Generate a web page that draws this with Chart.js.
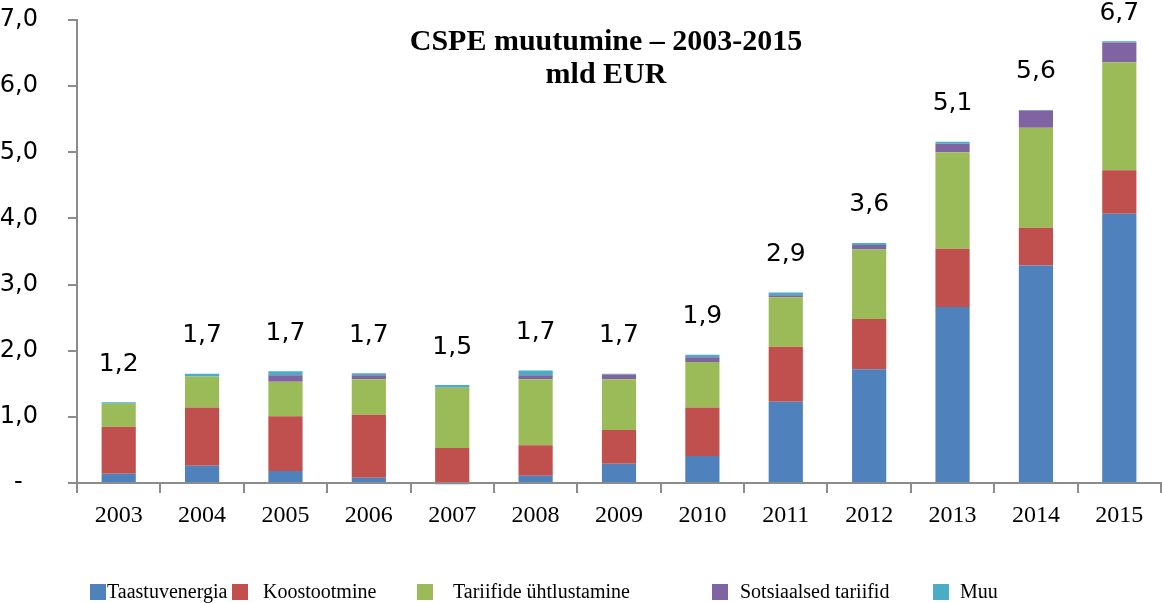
<!DOCTYPE html>
<html>
<head>
<meta charset="utf-8">
<script src="https://cdn.jsdelivr.net/npm/chart.js@4/dist/chart.umd.min.js"></script>
<style>
  body { margin: 0; background: #fff; }
  #wrap { position: relative; width: 1162px; height: 603px; }
  #legend { position: absolute; left: 0; top: 0; width: 1162px; height: 603px; pointer-events: none; }
  .lg-box { position: absolute; top: 584px; width: 16px; height: 16px; }
  .lg-txt { position: absolute; top: 579px; font: 20px "Liberation Serif", serif; color: #000; white-space: nowrap; line-height: 24px; }
</style>
</head>
<body>
<div id="wrap">
  <canvas id="c" width="1162" height="603"></canvas>
  <div id="legend"></div>
</div>
<script>
// CSPE muutumine 2003-2015, mld EUR — stacked columns
const YEARS = ['2003', '2004', '2005', '2006', '2007', '2008', '2009', '2010', '2011', '2012', '2013', '2014', '2015'];
const TAASTUV = [0.14, 0.26, 0.18, 0.08, -0.02, 0.11, 0.29, 0.41, 1.23, 1.72, 2.66, 3.29, 4.07];
const KOOSTOOT = [0.71, 0.88, 0.83, 0.95, 0.53, 0.46, 0.51, 0.73, 0.83, 0.76, 0.88, 0.57, 0.66];
const TARIIF = [0.35, 0.47, 0.52, 0.54, 0.91, 1.00, 0.77, 0.69, 0.75, 1.05, 1.46, 1.51, 1.63];
const SOTS = [0, 0, 0.10, 0.06, 0, 0.06, 0.07, 0.07, 0.03, 0.07, 0.13, 0.26, 0.30];
const MUU = [0.02, 0.04, 0.06, 0.03, 0.04, 0.07, 0.01, 0.04, 0.04, 0.03, 0.03, 0.01, 0.02];
const TOTALS = [1.2, 1.7, 1.7, 1.7, 1.5, 1.7, 1.7, 1.9, 2.9, 3.6, 5.1, 5.6, 6.7];
const Y_TICKS = [0, 1, 2, 3, 4, 5, 6, 7];

const AXIS = '#8c8c8c';
const fmt = v => v.toFixed(1).replace('.', ',');

// legend is laid out by hand, the spacing in the original is uneven
const LEGEND_POS = [[90, 107], [232, 263], [417, 453], [712, 740], [933, 960]];

const totalsPlugin = {
  id: 'totals',
  afterDatasetsDraw(chart) {
    const { ctx } = chart;
    ctx.save();
    ctx.font = '25px "DejaVu Sans", sans-serif';
    ctx.fillStyle = '#000';
    ctx.textAlign = 'center';
    ctx.textBaseline = 'middle';
    TOTALS.forEach((t, i) => {
      let top = Infinity, x = 0;
      chart.data.datasets.forEach((ds, d) => {
        const bar = chart.getDatasetMeta(d).data[i];
        if (ds.data[i] > 0 && bar.y < top) { top = bar.y; x = bar.x; }
      });
      ctx.fillText(fmt(t), x, Math.max(top - 38, 13));
    });
    ctx.restore();
  },
};

const titlePlugin = {
  id: 'innerTitle',
  afterDraw(chart) {
    const { ctx } = chart;
    ctx.save();
    ctx.font = 'bold 30px "Liberation Serif", serif';
    ctx.fillStyle = '#000';
    ctx.textAlign = 'center';
    ctx.textBaseline = 'middle';
    ctx.fillText('CSPE muutumine – 2003-2015', 606, 42);
    ctx.fillText('mld EUR', 606, 75);
    ctx.restore();
  },
};

const series = [
  ['Taastuvenergia', TAASTUV, '#4F81BD'],
  ['Koostootmine', KOOSTOOT, '#C0504D'],
  ['Tariifide ühtlustamine', TARIIF, '#9BBB59'],
  ['Sotsiaalsed tariifid', SOTS, '#8064A2'],
  ['Muu', MUU, '#4BACC6'],
];

const chart = new Chart(document.getElementById('c'), {
  type: 'bar',
  data: {
    labels: YEARS,
    datasets: series.map(([label, data, color]) => ({
      label, data, backgroundColor: color, borderWidth: 0,
      categoryPercentage: 1, barPercentage: 0.41, clip: false,
    })),
  },
  options: {
    responsive: false, animation: false,
    layout: { padding: { top: 20, right: 1, left: 0, bottom: 0 } },
    plugins: { legend: { display: false }, tooltip: { enabled: false } },
    scales: {
      x: {
        stacked: true,
        grid: { drawOnChartArea: false, drawTicks: true, tickLength: 10, color: AXIS, lineWidth: 2 },
        border: { color: AXIS, width: 2 },
        ticks: { color: '#000', font: { family: '"Liberation Serif", serif', size: 24 }, padding: 8, maxRotation: 0 },
        afterFit(s) { s.height = 120; s.paddingLeft = 0; s.paddingRight = 0; },
      },
      y: {
        stacked: true, min: 0, max: 7,
        afterBuildTicks(s) { s.ticks = Y_TICKS.map(v => ({ value: v })); },
        grid: { drawOnChartArea: false, drawTicks: true, tickLength: 9, color: AXIS, lineWidth: 2 },
        border: { color: AXIS, width: 2 },
        ticks: {
          color: '#000', font: { family: '"DejaVu Sans", sans-serif', size: 24 }, padding: 30,
          callback: v => v === 0 ? '-  ' : fmt(v),
        },
        afterFit(s) { s.width = 77; s.paddingTop = 0; s.paddingBottom = 0; },
      },
    },
  },
  plugins: [totalsPlugin, titlePlugin],
});

const legend = document.getElementById('legend');
chart.data.datasets.forEach((ds, i) => {
  const [bx, tx] = LEGEND_POS[i];
  legend.insertAdjacentHTML('beforeend',
    `<div class="lg-box" style="left:${bx}px;background:${ds.backgroundColor}"></div>
     <div class="lg-txt" style="left:${tx}px">${ds.label}</div>`);
});
</script>
</body>
</html>
